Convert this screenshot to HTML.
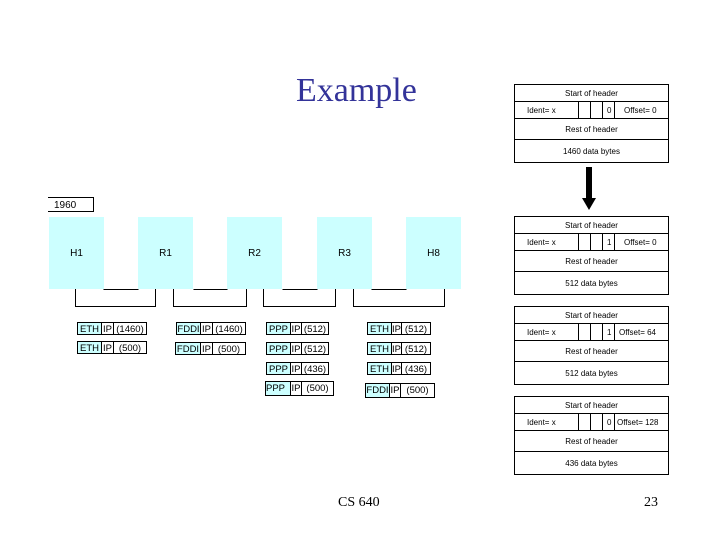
<!DOCTYPE html>
<html><head><style>
body{margin:0;width:720px;height:540px;background:#fff;position:relative;overflow:hidden;font-family:"Liberation Sans",sans-serif}
.a{position:absolute}
.n{position:absolute;background:#ccffff;font-size:10px;display:flex;align-items:center;justify-content:center;width:55px;height:72px;top:217px}
.l{position:absolute;height:13px;display:flex;font-size:9.5px;line-height:13px}
.l span{border:1px solid #000;border-right:none;box-sizing:border-box;height:100%;text-align:center;white-space:nowrap;overflow:hidden}
.l span:last-child{border-right:1px solid #000}
.c{background:#ccffff}
.pk{position:absolute;left:514px;width:155px;height:79px;border:1px solid #000;box-sizing:border-box;font-size:8px}
.pk div{position:absolute;left:0;width:100%;text-align:center;border-bottom:1px solid #000;box-sizing:border-box}
.pk .v{position:absolute;top:17px;height:17px;border-left:1px solid #000;width:0}
</style></head><body>
<div class="a" style="left:296px;top:72px;font-family:'Liberation Serif',serif;font-size:34px;color:#333399">Example</div>

<div class="a" style="left:48px;top:197px;width:46px;height:15px;border:1px solid #000;border-left:none;font-size:10px;line-height:15px;padding-left:6px;box-sizing:border-box">1960</div>

<div class="n" style="left:49px">H1</div>
<div class="n" style="left:138px">R1</div>
<div class="n" style="left:227px">R2</div>
<div class="n" style="left:317px">R3</div>
<div class="n" style="left:406px">H8</div>

<svg class="a" style="left:0;top:0" width="720" height="540">
<g stroke="#000" stroke-width="1" fill="none">
<path d="M103.5 289.5H138.5M193.5 289.5H227.5M282.5 289.5H317.5M371.5 289.5H406.5"/>
<path d="M75.5 289V306.5H155.5V289M173.5 289V306.5H246.5V289M263.5 289V306.5H335.5V289M353.5 289V306.5H444.5V289"/>
</g>
<rect x="586" y="167" width="6" height="33" fill="#000"/>
<polygon points="582,198 596,198 589,210" fill="#000"/>
</svg>

<div class="l" style="left:77px;top:322px"><span class="c" style="width:24px">ETH</span><span style="width:12px">IP</span><span style="width:34px">(1460)</span></div>
<div class="l" style="left:77px;top:341px"><span class="c" style="width:24px">ETH</span><span style="width:12px">IP</span><span style="width:34px">(500)</span></div>
<div class="l" style="left:176px;top:322px"><span class="c" style="width:24px">FDDI</span><span style="width:12px">IP</span><span style="width:34px">(1460)</span></div>
<div class="l" style="left:175px;top:342px"><span class="c" style="width:25px">FDDI</span><span style="width:12px">IP</span><span style="width:34px">(500)</span></div>
<div class="l" style="left:266px;top:322px"><span class="c" style="width:24px">PPP</span><span style="width:11px">IP</span><span style="width:28px">(512)</span></div>
<div class="l" style="left:266px;top:342px"><span class="c" style="width:24px">PPP</span><span style="width:11px">IP</span><span style="width:28px">(512)</span></div>
<div class="l" style="left:266px;top:362px"><span class="c" style="width:24px">PPP</span><span style="width:11px">IP</span><span style="width:28px">(436)</span></div>
<div class="l" style="left:265px;top:381px;height:15px"><span class="c" style="width:25px;text-align:left">PPP</span><span style="width:11px">IP</span><span style="width:33px">(500)</span></div>
<div class="l" style="left:367px;top:322px"><span class="c" style="width:24px">ETH</span><span style="width:10px">IP</span><span style="width:30px">(512)</span></div>
<div class="l" style="left:367px;top:342px"><span class="c" style="width:24px">ETH</span><span style="width:10px">IP</span><span style="width:30px">(512)</span></div>
<div class="l" style="left:367px;top:362px"><span class="c" style="width:24px">ETH</span><span style="width:10px">IP</span><span style="width:30px">(436)</span></div>
<div class="l" style="left:365px;top:383px;height:15px"><span class="c" style="width:24px">FDDI</span><span style="width:11px">IP</span><span style="width:35px">(500)</span></div>

<div class="pk" style="top:84px">
<div style="top:0;height:17px;line-height:17px">Start of header</div>
<div style="top:17px;height:17px;line-height:17px;text-align:left;padding-left:12px">Ident= x<span style="position:absolute;left:92px">0</span><span style="position:absolute;left:109px">Offset= 0</span></div>
<div style="top:34px;height:21px;line-height:21px">Rest of header</div>
<div style="top:55px;height:23px;line-height:23px;border:none">1460 data bytes</div>
<span class="v" style="left:63px"></span><span class="v" style="left:75px"></span><span class="v" style="left:87px"></span><span class="v" style="left:99px"></span>
</div>
<div class="pk" style="top:216px">
<div style="top:0;height:17px;line-height:17px">Start of header</div>
<div style="top:17px;height:17px;line-height:17px;text-align:left;padding-left:12px">Ident= x<span style="position:absolute;left:92px">1</span><span style="position:absolute;left:109px">Offset= 0</span></div>
<div style="top:34px;height:21px;line-height:21px">Rest of header</div>
<div style="top:55px;height:23px;line-height:23px;border:none">512 data bytes</div>
<span class="v" style="left:63px"></span><span class="v" style="left:75px"></span><span class="v" style="left:87px"></span><span class="v" style="left:99px"></span>
</div>
<div class="pk" style="top:306px">
<div style="top:0;height:17px;line-height:17px">Start of header</div>
<div style="top:17px;height:17px;line-height:17px;text-align:left;padding-left:12px">Ident= x<span style="position:absolute;left:92px">1</span><span style="position:absolute;left:104px">Offset= 64</span></div>
<div style="top:34px;height:21px;line-height:21px">Rest of header</div>
<div style="top:55px;height:23px;line-height:23px;border:none">512 data bytes</div>
<span class="v" style="left:63px"></span><span class="v" style="left:75px"></span><span class="v" style="left:87px"></span><span class="v" style="left:99px"></span>
</div>
<div class="pk" style="top:396px">
<div style="top:0;height:17px;line-height:17px">Start of header</div>
<div style="top:17px;height:17px;line-height:17px;text-align:left;padding-left:12px">Ident= x<span style="position:absolute;left:92px">0</span><span style="position:absolute;left:102px">Offset= 128</span></div>
<div style="top:34px;height:21px;line-height:21px">Rest of header</div>
<div style="top:55px;height:23px;line-height:23px;border:none">436 data bytes</div>
<span class="v" style="left:63px"></span><span class="v" style="left:75px"></span><span class="v" style="left:87px"></span><span class="v" style="left:99px"></span>
</div>

<div class="a" style="left:338px;top:495px;font-family:'Liberation Serif',serif;font-size:14px">CS 640</div>
<div class="a" style="left:644px;top:495px;font-family:'Liberation Serif',serif;font-size:14px">23</div>
</body></html>
